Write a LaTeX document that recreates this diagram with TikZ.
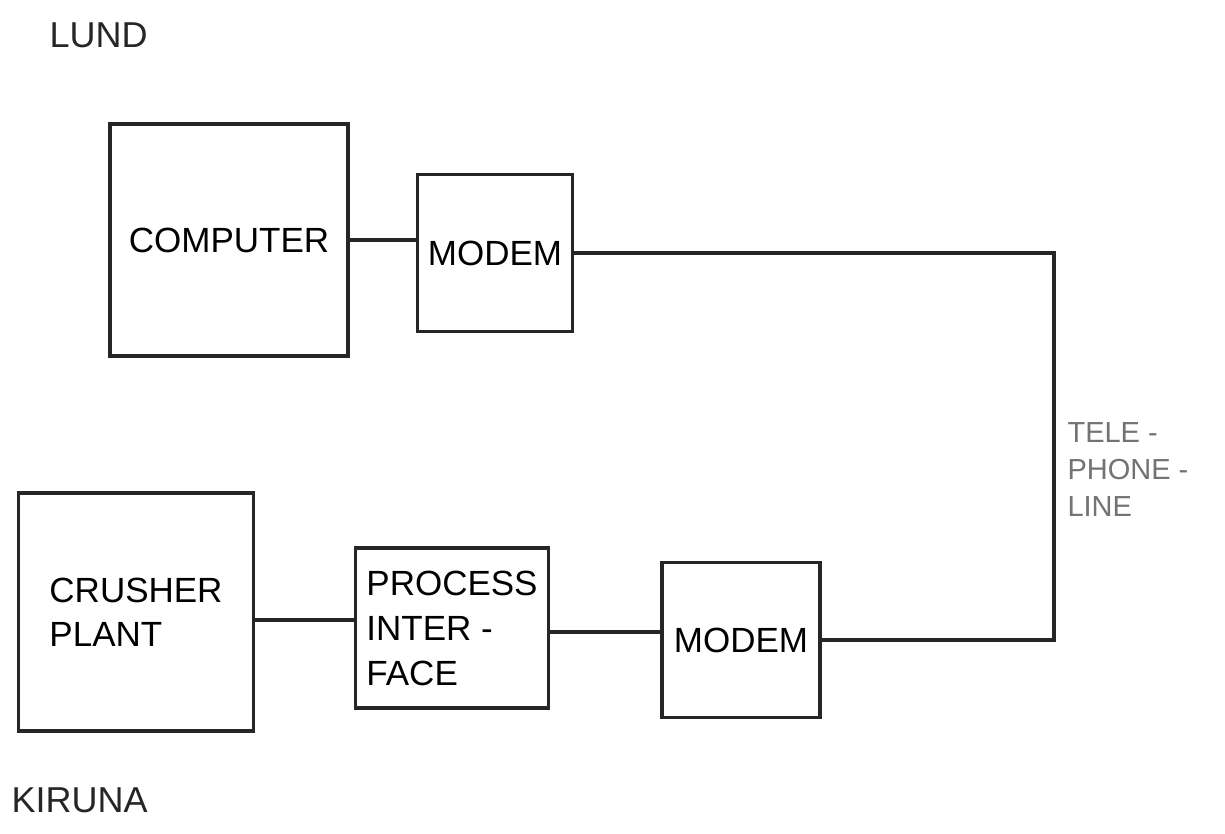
\documentclass[tikz,border=0pt]{standalone}
\usepackage{fontspec}
\setmainfont{Liberation Sans}
\begin{document}
\begin{tikzpicture}[x=1pt,y=-1pt,
  box/.style={draw=black!85, line width=3.2pt, inner sep=0pt, font=\fontsize{35}{44}\selectfont},
  wire/.style={draw=black!85, line width=3.2pt},
  lbl/.style={font=\fontsize{36}{42}\selectfont, text=black!85},
  tele/.style={font=\fontsize{29}{37}\selectfont, text=black!55, align=left, anchor=west}]
\useasboundingbox (0,0) rectangle (1225,833);
\fill[white] (0,0) rectangle (1225,833);
\node[lbl, anchor=west] (lund) at (46,35) {LUND};
\node[lbl, anchor=west] (kiruna) at (8,800) {KIRUNA};
\node[box, minimum width=238pt, minimum height=232pt] (comp) at (229,240) {COMPUTER};
\node[box, minimum width=155pt, minimum height=157pt] (m1) at (495,253) {MODEM};
\node[box, minimum width=235pt, minimum height=238pt, align=left] (crush) at (136,612) {CRUSHER\\PLANT};
\node[box, minimum width=193pt, minimum height=160pt, align=left, font=\fontsize{35}{45}\selectfont] (proc) at (452,628) {PROCESS\\INTER -\\FACE};
\node[box, minimum width=158pt, minimum height=155pt] (m2) at (741,640) {MODEM};
\node[tele] (tel) at (1064,470) {TELE -\\PHONE -\\LINE};
\coordinate (turn) at (1054,0);
\draw[wire] (comp.east) -- (comp.east -| m1.west);
\draw[wire] (m1.east) -- (m1.east -| turn) -- (turn |- m2.east) -- (m2.east);
\draw[wire] (crush.east |- 0,620) -- (proc.west |- 0,620);
\draw[wire] (proc.east |- 0,632) -- (m2.west |- 0,632);
\end{tikzpicture}
\end{document}
